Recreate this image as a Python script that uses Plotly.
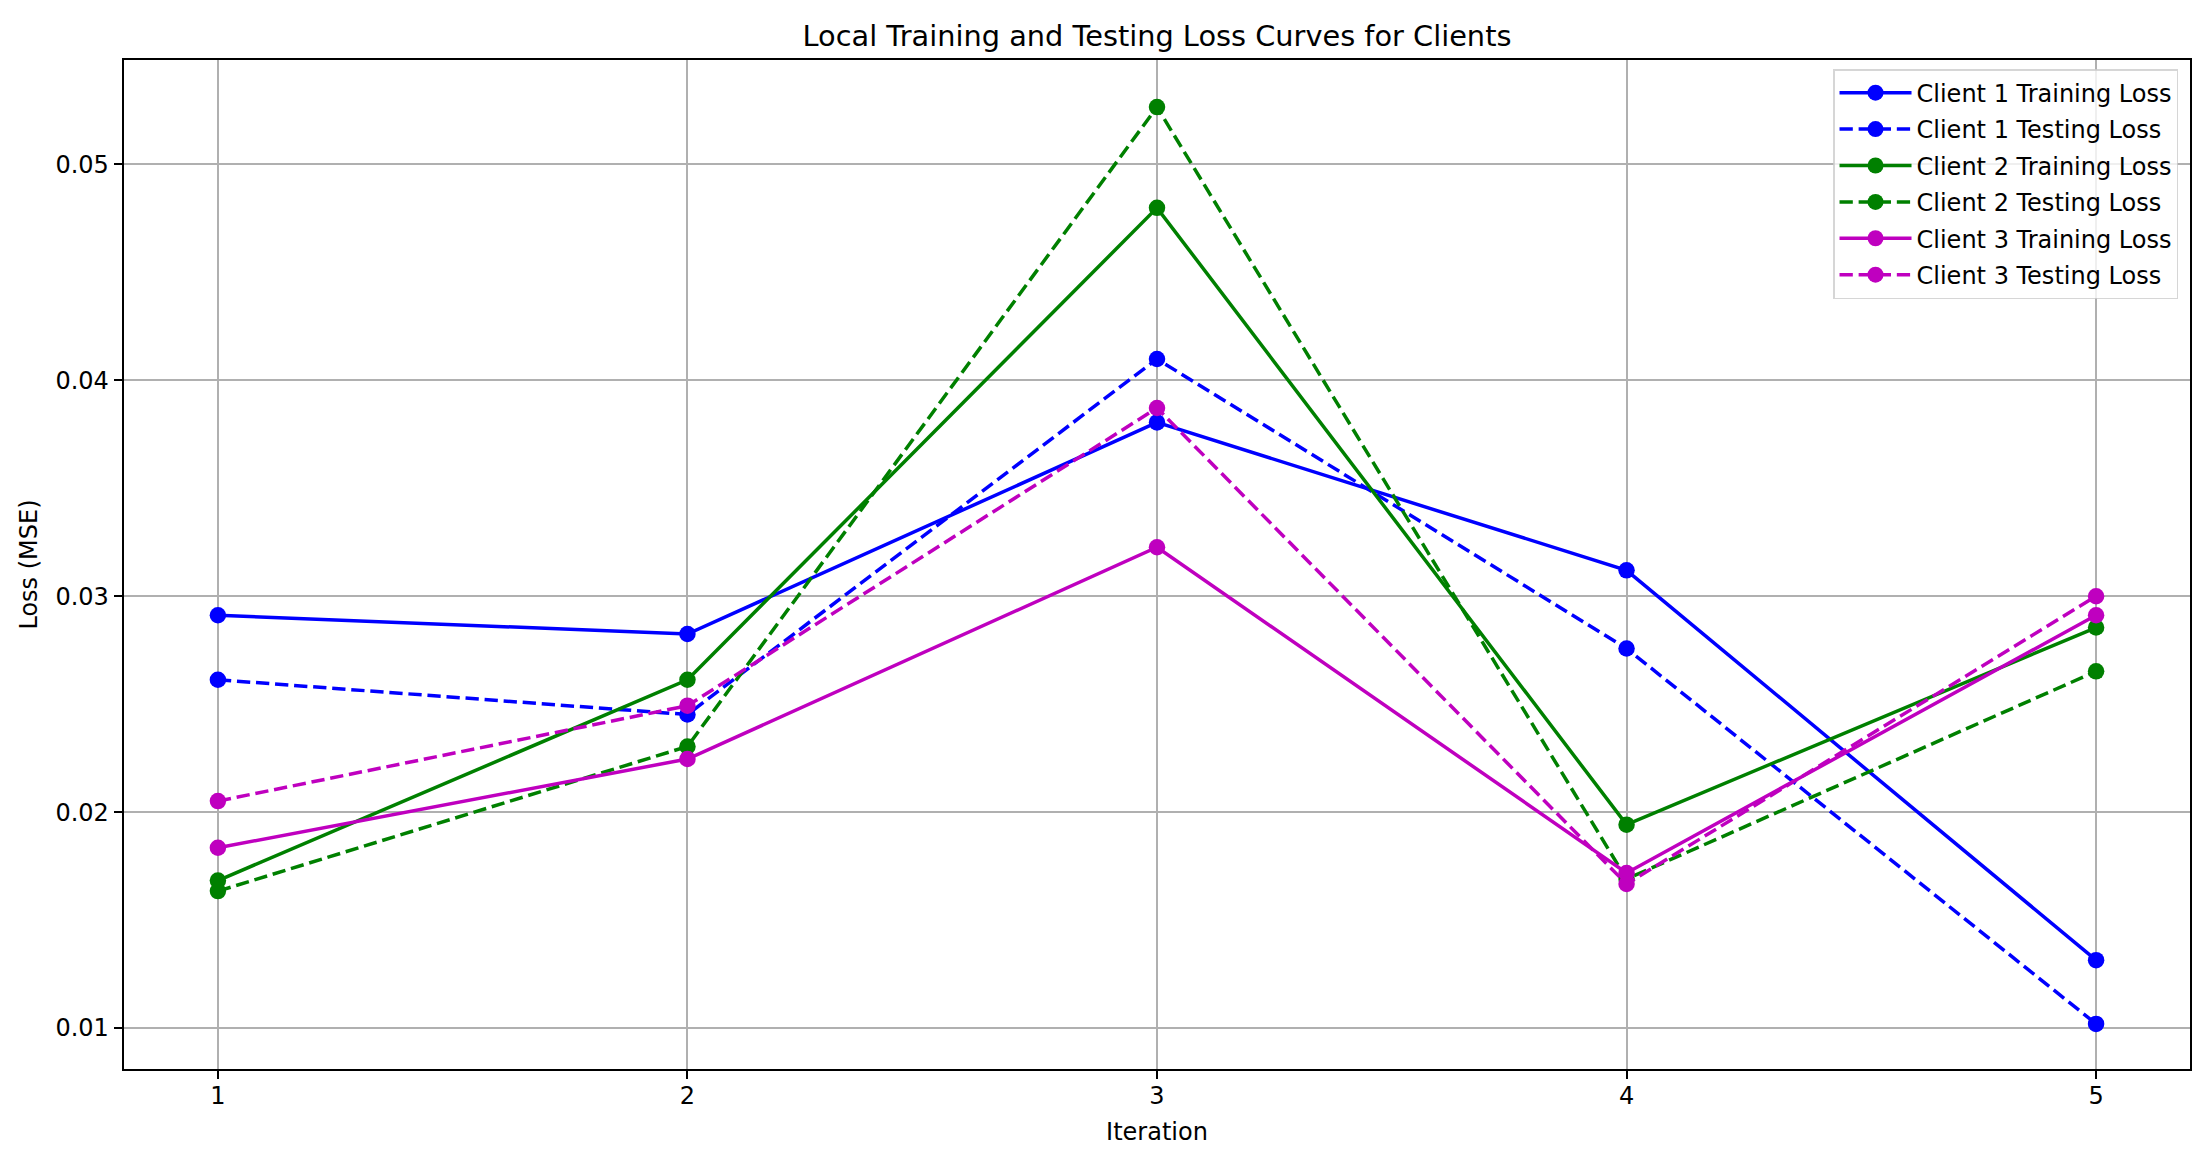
import plotly.graph_objects as go

iterations = [1, 2, 3, 4, 5]
client1_train = [0.02912, 0.02825, 0.03805, 0.03120, 0.01314]
client1_test = [0.02613, 0.02452, 0.04099, 0.02758, 0.01019]
client2_train = [0.01683, 0.02613, 0.04799, 0.01942, 0.02855]
client2_test = [0.01634, 0.02304, 0.05266, 0.01690, 0.02652]
client3_train = [0.01835, 0.02246, 0.03227, 0.01718, 0.02912]
client3_test = [0.02051, 0.02493, 0.03872, 0.01667, 0.03000]

y_ticks = [0.01, 0.02, 0.03, 0.04, 0.05]
y_tick_labels = ["0.01", "0.02", "0.03", "0.04", "0.05"]

series = [
    ("Client 1 Training Loss", client1_train, "#0000ff", "solid"),
    ("Client 1 Testing Loss", client1_test, "#0000ff", "13.3px,5.8px"),
    ("Client 2 Training Loss", client2_train, "#008000", "solid"),
    ("Client 2 Testing Loss", client2_test, "#008000", "13.3px,5.8px"),
    ("Client 3 Training Loss", client3_train, "#bf00bf", "solid"),
    ("Client 3 Testing Loss", client3_test, "#bf00bf", "13.3px,5.8px"),
]

fig = go.Figure()
for i, (name, vals, color, dash) in enumerate(series):
    fig.add_trace(go.Scatter(
        x=iterations, y=vals, name=name, mode="lines+markers",
        legendgroup="g%d" % i,
        line=dict(color=color, width=3.5, dash=dash),
        marker=dict(color=color, size=16.5, line=dict(width=0)),
    ))

# page body has an 8px default margin; size figure to fit inside the window
W, H = 2204, 1149
ml, mt = 116, 52
pw, ph = 2066, 1009.5
mr = W - ml - pw
mb = H - mt - ph

fig.update_layout(
    width=W, height=H,
    margin=dict(l=ml, r=mr, t=mt, b=mb, pad=0),
    paper_bgcolor="white", plot_bgcolor="white",
    font=dict(family="DejaVu Sans", size=24, color="black"),
    title=dict(
        text="Local Training and Testing Loss Curves for Clients",
        x=0.5, xref="paper", xanchor="center",
        y=1, yref="paper", yanchor="bottom",
        pad=dict(b=14),
        font=dict(size=28.8, color="black"),
    ),
    showlegend=True,
    legend=dict(
        x=0.9942, y=0.991, xanchor="right", yanchor="top",
        bgcolor="rgba(255,255,255,0.8)",
        bordercolor="rgba(204,204,204,0.8)", borderwidth=1.5,
        font=dict(size=24, color="black"),
        itemwidth=72,
        tracegroupgap=2.2,
    ),
)

fig.update_xaxes(
    range=[0.8, 5.2],
    tickvals=iterations, ticktext=[str(i) for i in iterations],
    showgrid=True, gridcolor="#b0b0b0", gridwidth=1.9,
    zeroline=False,
    showline=True, linecolor="black", linewidth=1.9, mirror=True,
    ticks="outside", ticklen=8.4, tickwidth=1.9, tickcolor="black",
    tickfont=dict(size=24),
    ticklabelstandoff=-4,
    title=dict(text="Iteration", font=dict(size=24), standoff=14),
)
fig.update_yaxes(
    range=[0.00810, 0.05484],
    tickvals=y_ticks, ticktext=y_tick_labels,
    showgrid=True, gridcolor="#b0b0b0", gridwidth=1.9,
    zeroline=False,
    showline=True, linecolor="black", linewidth=1.9, mirror=True,
    ticks="outside", ticklen=8.4, tickwidth=1.9, tickcolor="black",
    tickfont=dict(size=24),
    title=dict(text="Loss (MSE)", font=dict(size=24), standoff=11),
)

fig.write_html("out.html")
